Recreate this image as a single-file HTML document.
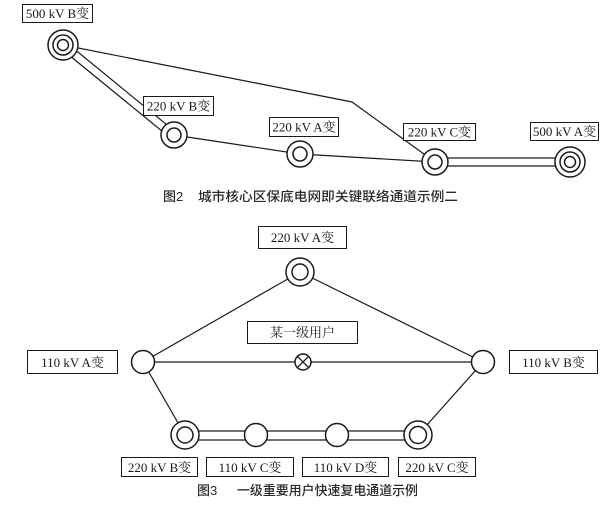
<!DOCTYPE html>
<html>
<head>
<meta charset="utf-8">
<style>
  html,body{margin:0;padding:0;background:#fff;}
  svg{display:block;}
  .lbl{font-family:"Liberation Serif","Noto Serif CJK SC",serif;font-size:13px;fill:#1a1a1a;}
  .cap{font-family:"Liberation Sans","Noto Sans CJK SC",sans-serif;font-size:13px;fill:#2a2a2a;font-weight:500;}
</style>
</head>
<body>
<svg width="613" height="509" viewBox="0 0 613 509" xmlns="http://www.w3.org/2000/svg">
  <rect width="613" height="509" fill="#fff"/>
  <g stroke="#1a1a1a" fill="none" stroke-width="1.2">
    <line x1="60.5" y1="48.1" x2="170.5" y2="138.1"/>
    <line x1="65.5" y1="41.9" x2="175.5" y2="131.9"/>
    <polyline points="63,45 352,102 435,162"/>
    <polyline points="174,135 300,154 435,162"/>
    <line x1="435" y1="158" x2="570" y2="158"/>
    <line x1="435" y1="166" x2="570" y2="166"/>
  </g>
  <g stroke="#1a1a1a" fill="#fff" stroke-width="1.5">
    <circle cx="63" cy="45" r="15"/>
    <circle cx="63" cy="45" r="10"/>
    <circle cx="63" cy="45" r="5.5"/>
    <circle cx="174" cy="135" r="13"/>
    <circle cx="174" cy="135" r="7"/>
    <circle cx="300" cy="154" r="13"/>
    <circle cx="300" cy="154" r="7"/>
    <circle cx="435" cy="162" r="13"/>
    <circle cx="435" cy="162" r="7"/>
    <circle cx="570" cy="162" r="15"/>
    <circle cx="570" cy="162" r="10"/>
    <circle cx="570" cy="162" r="5.5"/>
  </g>
  <g stroke="#1a1a1a" fill="#fff" stroke-width="1">
    <rect x="22.5" y="4.5" width="70" height="18"/>
    <rect x="143.5" y="96.5" width="70" height="19"/>
    <rect x="269.5" y="117.5" width="69" height="19"/>
    <rect x="403.5" y="123.5" width="72" height="17"/>
    <rect x="530.5" y="122.5" width="68" height="18"/>
  </g>
  <g class="lbl" text-anchor="middle">
    <text x="57.5" y="18">500 kV B变</text>
    <text x="178.5" y="110.5">220 kV B变</text>
    <text x="304" y="131.5">220 kV A变</text>
    <text x="439.5" y="136.5">220 kV C变</text>
    <text x="564.5" y="136">500 kV A变</text>
  </g>
  <text class="cap" x="163" y="201">图2</text>
  <text class="cap" x="198" y="201" textLength="260" lengthAdjust="spacingAndGlyphs">城市核心区保底电网即关键联络通道示例二</text>

  <g stroke="#1a1a1a" fill="none" stroke-width="1.2">
    <line x1="300" y1="272" x2="143" y2="362"/>
    <line x1="300" y1="272" x2="483" y2="362"/>
    <line x1="143" y1="362" x2="483" y2="362"/>
    <line x1="143" y1="362" x2="185" y2="435"/>
    <line x1="483" y1="362" x2="418" y2="435"/>
    <line x1="185" y1="431" x2="418" y2="431"/>
    <line x1="185" y1="440" x2="418" y2="440"/>
  </g>
  <g stroke="#1a1a1a" fill="#fff" stroke-width="1.5">
    <circle cx="300" cy="272" r="14"/>
    <circle cx="300" cy="272" r="8"/>
    <circle cx="143" cy="362" r="11.5"/>
    <circle cx="483" cy="362" r="11.5"/>
    <circle cx="303" cy="362" r="8"/>
    <circle cx="185" cy="435" r="14"/>
    <circle cx="185" cy="435" r="8"/>
    <circle cx="256" cy="435" r="11.5"/>
    <circle cx="337" cy="435" r="11.5"/>
    <circle cx="418" cy="435" r="14"/>
    <circle cx="418" cy="435" r="8.5"/>
  </g>
  <g stroke="#1a1a1a" stroke-width="1.3">
    <line x1="297.3" y1="356.3" x2="308.7" y2="367.7"/>
    <line x1="308.7" y1="356.3" x2="297.3" y2="367.7"/>
  </g>
  <g stroke="#1a1a1a" fill="#fff" stroke-width="1">
    <rect x="258.5" y="226.5" width="88" height="22"/>
    <rect x="247.5" y="321.5" width="110" height="22"/>
    <rect x="27.5" y="350.5" width="90" height="23"/>
    <rect x="509.5" y="350.5" width="88" height="23"/>
    <rect x="121.5" y="457.5" width="76" height="19"/>
    <rect x="206.5" y="457.5" width="87" height="19"/>
    <rect x="302.5" y="457.5" width="86" height="19"/>
    <rect x="398.5" y="457.5" width="77" height="19"/>
  </g>
  <g class="lbl" text-anchor="middle">
    <text x="302.5" y="242">220 kV A变</text>
    <text x="302.5" y="337">某一级用户</text>
    <text x="72.5" y="367">110 kV A变</text>
    <text x="553.5" y="367">110 kV B变</text>
    <text x="159.5" y="472">220 kV B变</text>
    <text x="250" y="472">110 kV C变</text>
    <text x="345.5" y="472">110 kV D变</text>
    <text x="437" y="472">220 kV C变</text>
  </g>
  <text class="cap" x="197" y="495">图3</text>
  <text class="cap" x="237" y="495" textLength="181" lengthAdjust="spacingAndGlyphs">一级重要用户快速复电通道示例</text>
</svg>
</body>
</html>
